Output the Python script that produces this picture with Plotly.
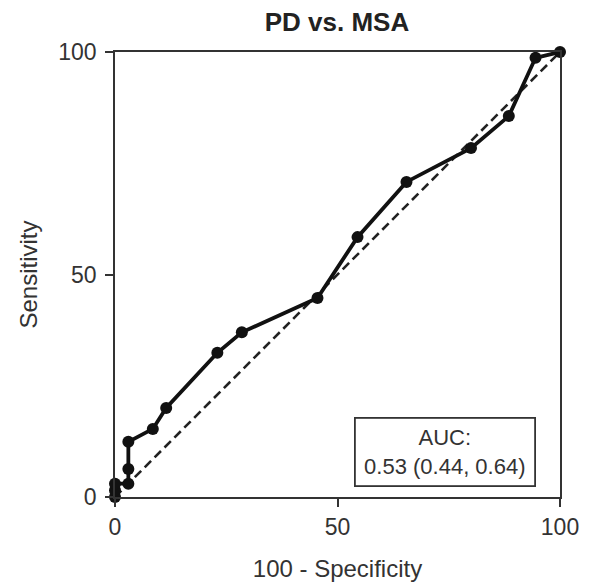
import plotly.graph_objects as go

fpr = [0, 0, 0, 3, 3, 3, 8.5, 11.5, 23, 28.5, 45.5, 54.5, 65.5, 80, 88.5, 94.5, 100]
tpr = [0, 1.5, 3, 3, 6.3, 12.4, 15.3, 20, 32.4, 37, 44.7, 58.4, 70.8, 78.4, 85.6, 98.7, 100]
ref_x = [0, 100]
ref_y = [0, 100]
ticks = [0, 50, 100]
title = "PD vs. MSA"
auc_text = "AUC:<br>0.53 (0.44, 0.64)"

FONT = "Liberation Sans, Arial"

fig = go.Figure()
fig.add_trace(go.Scatter(x=ref_x, y=ref_y, mode="lines",
                         line=dict(color="#222", width=2.6, dash="9px,5px"),
                         showlegend=False, cliponaxis=False))
fig.add_trace(go.Scatter(x=fpr, y=tpr, mode="lines+markers",
                         line=dict(color="#111", width=3.8),
                         marker=dict(color="#111", size=12),
                         showlegend=False, cliponaxis=False))

axis_common = dict(range=[0, 100], tickvals=ticks, showgrid=False, zeroline=False,
                   showline=True, mirror=True, linecolor="#333", linewidth=1.8,
                   ticks="outside", ticklen=8, tickcolor="#333", tickwidth=1.8,
                   automargin=False,
                   tickfont=dict(family=FONT, size=23, color="#333"))

fig.update_layout(
    width=588, height=579,
    margin=dict(l=107, r=36, t=44, b=90),
    paper_bgcolor="white", plot_bgcolor="white",
    title=dict(text="<b>" + title + "</b>", x=(337 - 8) / 588, xanchor="center",
               y=1 - (22 - 8) / 579, yanchor="middle",
               font=dict(family=FONT, size=26, color="#222")),
    xaxis=dict(**axis_common,
               title=dict(text="100 - Specificity", standoff=22,
                          font=dict(family=FONT, size=24, color="#333"))),
    yaxis=dict(**axis_common, ticklabelstandoff=4,
               title=dict(text="Sensitivity", standoff=14,
                          font=dict(family=FONT, size=24, color="#333"))),
    annotations=[dict(x=0.742, y=0.102, xref="paper", yref="paper", text=auc_text,
                      showarrow=False, xanchor="center", yanchor="middle",
                      font=dict(family=FONT, size=22, color="#333"),
                      bordercolor="#333", borderwidth=1.8, borderpad=4, bgcolor="white",
                      width=170, height=58, align="center")],
)
fig.write_html("out.html")
